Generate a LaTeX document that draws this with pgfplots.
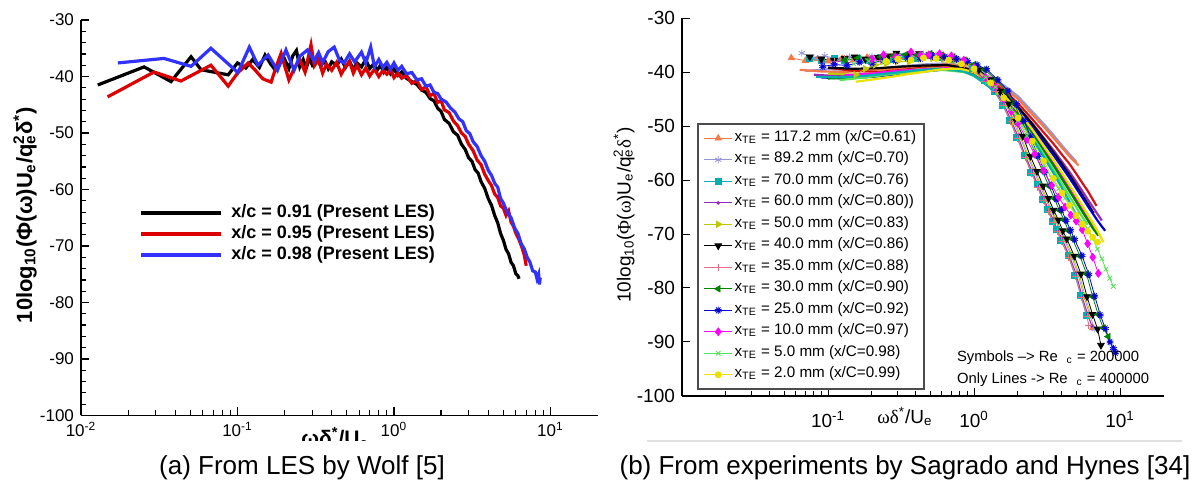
\documentclass[border=0pt]{standalone}
\usepackage{fontspec}
\setmainfont{Liberation Sans}
\newfontfamily\grk{Liberation Serif}
\usepackage{pgfplots}
\pgfplotsset{compat=1.18}
\definecolor{lesred}{RGB}{220,0,0}
\definecolor{lesblue}{RGB}{50,50,255}
\definecolor{cOrange}{RGB}{245,120,70}
\definecolor{cLav}{RGB}{150,150,215}
\definecolor{cTeal}{RGB}{0,175,175}
\definecolor{cPurple}{RGB}{150,40,190}
\definecolor{cYG}{RGB}{190,200,0}
\definecolor{cPink}{RGB}{225,110,130}
\definecolor{cRed}{RGB}{210,20,20}
\definecolor{cGreen}{RGB}{0,130,0}
\definecolor{cBlue}{RGB}{0,0,210}
\definecolor{cMag}{RGB}{255,0,255}
\definecolor{cLGreen}{RGB}{90,225,90}
\definecolor{cYellow}{RGB}{235,225,0}
\begin{document}
\begin{tikzpicture}
\path[use as bounding box] (0,0) rectangle (600pt,246pt);
% ---------------- left panel ----------------
\begin{axis}[
 at={(40.5pt,38.25pt)}, anchor=south west,
 scale only axis, width=258.3pt, height=197.75pt,
 xmode=log, xmin=0.01, xmax=20, ymin=-100, ymax=-30,
 axis x line*=bottom, axis y line*=left,
 axis line style={line width=0.9pt,-},
 every tick/.style={black, line width=0.6pt},
 tick align=inside, major tick length=4pt, minor tick length=2.5pt,
 xtick={0.01,0.1,1,10},
 xticklabels={10\textsuperscript{-2},10\textsuperscript{-1},10\textsuperscript{0},10\textsuperscript{1}},
 minor xtick={0.02,0.03,0.04,0.05,0.06,0.07,0.08,0.09,0.2,0.3,0.4,0.5,0.6,0.7,0.8,0.9,2,3,4,5,6,7,8,9},
 ytick={-100,-90,-80,-70,-60,-50,-40,-30},
 yticklabels={-100,-90,-80,-70,-60,-50,-40,-30},
 minor y tick num=4,
 tick label style={font=\fontsize{8.5}{10}\selectfont},
 legend style={at={(0.1,0.55)}, anchor=north west, draw=none, fill=none,
   font=\bfseries\fontsize{9}{10}\selectfont, row sep=0pt, column sep=3pt,
   nodes={inner sep=1pt, text height=6.6pt, text depth=1.9pt}},
 legend cell align=left,
 legend image code/.code={\draw[#1, line width=2.1pt] (0pt,0pt) -- (40pt,0pt);},
]
\addplot[black, line width=1.6pt] coordinates {
(0.0128,-41.5) (0.0253,-38.3) (0.0376,-40.9) (0.0505,-36.5) (0.0585,-38.8) (0.0872,-39.7)
(0.100,-37.6) (0.113,-38.5) (0.125,-37.0) (0.138,-38.4) (0.150,-36.2) (0.163,-37.8)
(0.175,-38.9) (0.188,-37.4) (0.200,-36.9) (0.213,-38.6) (0.225,-36.4) (0.238,-35.4)
(0.250,-38.3) (0.263,-37.0) (0.275,-38.5) (0.288,-36.8) (0.30,-37.9) (0.32,-36.5)
(0.34,-38.2) (0.36,-37.1) (0.38,-38.6) (0.40,-37.4) (0.43,-38.0) (0.46,-36.9)
(0.49,-38.4) (0.52,-37.3) (0.55,-38.8) (0.58,-37.6) (0.62,-38.3) (0.66,-37.0)
(0.70,-38.6) (0.74,-37.8) (0.78,-38.9) (0.82,-38.0) (0.86,-39.2) (0.90,-38.3)
(0.95,-39.5) (1.00,-38.7) (1.06,-39.8) (1.12,-39.2) (1.2,-40.3) (1.3,-40.9)
(1.4,-41.4) (1.5,-42.4) (1.6,-42.8) (1.7,-43.9) (1.8,-44.3) (1.9,-45.6)
(2.0,-46.2) (2.1,-47.6) (2.25,-48.3) (2.4,-49.8) (2.55,-50.4) (2.7,-52.0)
(2.85,-52.9) (3.0,-54.4) (3.15,-55.0) (3.3,-56.5) (3.45,-57.1) (3.6,-58.6)
(3.8,-59.8) (4.0,-61.6) (4.2,-62.8) (4.4,-64.6) (4.6,-65.9) (4.8,-67.8)
(5.0,-69.0) (5.2,-70.6) (5.4,-71.4) (5.6,-72.9) (5.8,-73.5) (6.0,-74.9)
(6.2,-75.3) (6.3,-75.8)};
\addlegendentry{x/c = 0.91 (Present LES)}
\addplot[lesred, line width=1.6pt] coordinates {
(0.0148,-43.6) (0.0293,-39.2) (0.0435,-40.8) (0.0676,-38.0) (0.0872,-41.7) (0.100,-39.4)
(0.117,-37.6) (0.130,-38.9) (0.145,-40.4) (0.164,-41.0) (0.177,-38.2) (0.19,-35.9)
(0.20,-38.1) (0.213,-40.6) (0.23,-38.6) (0.25,-37.0) (0.27,-39.2) (0.295,-34.4)
(0.31,-38.1) (0.33,-37.0) (0.35,-39.4) (0.37,-37.8) (0.40,-38.9) (0.43,-37.5)
(0.46,-39.6) (0.49,-38.2) (0.52,-37.4) (0.55,-39.4) (0.58,-38.0) (0.62,-39.7)
(0.66,-38.5) (0.70,-39.9) (0.75,-38.7) (0.80,-40.0) (0.85,-38.9) (0.90,-39.6)
(0.95,-38.8) (1.00,-40.2) (1.06,-39.4) (1.12,-40.3) (1.2,-39.8) (1.3,-41.2)
(1.4,-40.7) (1.5,-42.3) (1.6,-41.8) (1.7,-43.4) (1.8,-43.0) (1.9,-44.6)
(2.0,-44.3) (2.1,-45.9) (2.25,-46.4) (2.4,-47.9) (2.55,-48.7) (2.7,-50.0)
(2.85,-50.6) (3.0,-52.0) (3.2,-53.1) (3.4,-54.8) (3.6,-55.6) (3.8,-57.3)
(4.0,-58.4) (4.2,-59.3) (4.4,-60.8) (4.6,-61.4) (4.8,-62.9) (5.0,-63.3)
(5.2,-64.6) (5.4,-63.8) (5.6,-65.8) (5.8,-66.5) (6.0,-67.7) (6.3,-68.9)
(6.6,-70.4) (6.8,-71.6) (7.0,-73.5)};
\addlegendentry{x/c = 0.95 (Present LES)}
\addplot[lesblue, line width=1.6pt] coordinates {
(0.0172,-37.6) (0.0339,-36.8) (0.0505,-38.2) (0.0676,-35.0) (0.1006,-39.3) (0.119,-34.8)
(0.135,-38.0) (0.157,-36.2) (0.18,-38.9) (0.204,-35.3) (0.23,-38.9) (0.25,-36.4)
(0.28,-35.3) (0.31,-37.3) (0.33,-35.8) (0.35,-37.5) (0.38,-35.6) (0.415,-34.8)
(0.45,-37.2) (0.48,-37.6) (0.52,-36.0) (0.56,-37.4) (0.62,-35.7) (0.66,-37.6)
(0.71,-34.8) (0.75,-38.3) (0.80,-37.0) (0.85,-38.4) (0.90,-37.5) (0.95,-38.7)
(1.00,-37.6) (1.06,-38.9) (1.12,-38.2) (1.2,-39.5) (1.3,-39.3) (1.4,-40.6)
(1.5,-40.4) (1.6,-41.7) (1.7,-41.5) (1.8,-42.8) (1.9,-43.0) (2.0,-44.0)
(2.15,-44.5) (2.3,-45.6) (2.45,-46.3) (2.6,-47.5) (2.75,-48.0) (2.9,-49.6)
(3.05,-50.1) (3.2,-51.5) (3.4,-52.4) (3.6,-54.0) (3.8,-55.0) (4.0,-56.6)
(4.2,-57.5) (4.4,-58.9) (4.6,-59.6) (4.8,-61.6) (5.0,-62.4) (5.3,-64.1)
(5.6,-65.0) (5.9,-66.8) (6.2,-67.8) (6.5,-69.6) (6.8,-70.5) (7.1,-72.0)
(7.4,-72.9) (7.7,-74.4) (8.0,-74.6) (8.2,-75.8) (8.4,-75.0) (8.5,-76.8) (8.6,-75.6)};
\addlegendentry{x/c = 0.98 (Present LES)}
\end{axis}
% ---------------- right panel ----------------
\begin{axis}[
 at={(341pt,48pt)}, anchor=south west,
 scale only axis, width=241pt, height=189pt,
 xmode=log, xmin=0.01, xmax=20, ymin=-100, ymax=-30,
 axis x line*=bottom, axis y line*=left,
 axis line style={line width=0.7pt,-},
 every tick/.style={black, line width=0.5pt},
 tick align=inside, major tick length=4pt, minor tick length=2.5pt,
 xtick={0.1,1,10},
 xticklabels={10\textsuperscript{-1},10\textsuperscript{0},10\textsuperscript{1}},
 minor xtick={0.02,0.03,0.04,0.05,0.06,0.07,0.08,0.09,0.2,0.3,0.4,0.5,0.6,0.7,0.8,0.9,2,3,4,5,6,7,8,9},
 xticklabel style={yshift=-4pt},
 ytick={-100,-90,-80,-70,-60,-50,-40,-30},
 yticklabels={-100,-90,-80,-70,-60,-50,-40,-30},
 tick label style={font=\fontsize{9.5}{11}\selectfont},
 legend style={at={(0.031,0.722)}, anchor=north west, draw=black!70, line width=0.9pt, fill=white,
   font=\fontsize{7.6}{8}\selectfont, row sep=0.45pt, inner xsep=3pt, inner ysep=2pt,
   nodes={inner sep=1pt, text height=5.7pt, text depth=2.6pt, line width=0.4pt}},
 legend cell align=left,
 legend image code/.code={\draw[mark repeat=2,mark phase=2,#1] plot coordinates {(0pt,0pt) (7pt,0pt) (14pt,0pt)};},
]
% --- lines: Re_c = 400000 ---
\addplot[cLav, line width=1.1pt, forget plot] coordinates {(0.07,-39.8) (0.1,-39.5) (0.15,-39.6) (0.22,-39.3) (0.3,-39.0) (0.45,-38.6) (0.65,-38.4) (0.85,-38.8) (1.0,-39.3) (1.26,-40.8) (1.6,-42.5) (2,-44.5) (2.5,-47.3) (3,-49.6) (3.5,-51.7) (4,-53.6) (4.5,-55.2) (5.05,-56.7)};
\addplot[cOrange, line width=1.1pt, forget plot] coordinates {(0.064,-39.6) (0.09,-39.9) (0.13,-40.0) (0.2,-39.6) (0.3,-39.4) (0.45,-38.9) (0.65,-38.6) (0.85,-39.0) (1.0,-39.6) (1.26,-41.0) (1.6,-42.9) (2,-45.0) (2.5,-47.8) (3,-50.1) (3.5,-52.2) (4,-54.0) (4.6,-55.9) (5.2,-57.3)};
\addplot[cRed, line width=1.1pt, forget plot] coordinates {(0.1,-39.2) (0.15,-39.8) (0.22,-40.0) (0.3,-39.7) (0.45,-39.2) (0.65,-38.9) (0.85,-39.3) (1.0,-39.9) (1.26,-41.4) (1.6,-43.4) (2,-45.8) (2.5,-48.7) (3,-51.2) (3.5,-53.3) (4,-55.3) (4.5,-57.0) (5,-58.8) (5.5,-60.5) (6,-62.0) (6.5,-63.6) (6.9,-64.8)};
\addplot[cPurple, line width=1.1pt, forget plot] coordinates {(0.08,-40.5) (0.12,-40.8) (0.18,-40.6) (0.27,-40.2) (0.4,-39.6) (0.6,-39.2) (0.85,-39.6) (1.0,-40.2) (1.26,-41.8) (1.6,-44.0) (2,-46.5) (2.5,-49.5) (3,-52.2) (3.5,-54.5) (4,-56.6) (4.5,-58.5) (5,-60.3) (5.5,-62.0) (6,-63.6) (6.5,-65.0) (7,-66.3) (7.5,-67.5)};
\addplot[black, line width=1.1pt, forget plot] coordinates {(0.1,-39.2) (0.15,-39.4) (0.22,-39.3) (0.32,-39.0) (0.45,-38.8) (0.65,-38.7) (0.85,-39.2) (1.0,-39.9) (1.26,-41.6) (1.6,-43.9) (2,-46.5) (2.5,-49.6) (3,-52.4) (3.5,-54.9) (4,-57.1) (4.5,-59.1) (5,-61.0) (5.5,-62.8) (6,-64.4) (6.6,-66.2)};
\addplot[cBlue, line width=1.1pt, forget plot] coordinates {(0.09,-41.0) (0.13,-41.2) (0.2,-40.9) (0.3,-40.4) (0.45,-39.9) (0.65,-39.5) (0.85,-39.8) (1.0,-40.4) (1.26,-42.1) (1.6,-44.4) (2,-47.0) (2.5,-50.2) (3,-53.0) (3.5,-55.4) (4,-57.6) (4.5,-59.6) (5,-61.5) (5.5,-63.2) (6,-64.8) (6.5,-66.2) (7,-67.5) (7.5,-68.6) (7.9,-69.4)};
\addplot[cYG, line width=1.1pt, forget plot] coordinates {(0.1,-40.3) (0.15,-40.5) (0.22,-40.2) (0.32,-39.8) (0.45,-39.4) (0.65,-39.2) (0.85,-39.6) (1.0,-40.3) (1.26,-42.0) (1.6,-44.5) (2,-47.3) (2.5,-50.7) (3,-53.8) (3.5,-56.5) (4,-59.0) (4.5,-61.2) (5,-63.2) (5.5,-65.0) (6,-66.7) (6.5,-68.3) (7.1,-70.0)};
\addplot[cMag, line width=1.1pt, forget plot] coordinates {(0.13,-40.6) (0.2,-40.3) (0.3,-39.8) (0.45,-39.5) (0.65,-39.3) (0.85,-39.8) (1.0,-40.5) (1.26,-42.3) (1.6,-44.9) (2,-47.8) (2.5,-51.2) (3,-54.3) (3.5,-57.0) (4,-59.4) (4.5,-61.6) (5,-63.6) (5.5,-65.5) (6,-67.2) (6.5,-68.8)};
\addplot[cGreen, line width=1.1pt, forget plot] coordinates {(0.1,-41.2) (0.15,-41.0) (0.22,-40.6) (0.32,-40.1) (0.45,-39.7) (0.65,-39.5) (0.85,-39.9) (1.0,-40.6) (1.26,-42.4) (1.6,-45.0) (2,-47.9) (2.5,-51.4) (3,-54.6) (3.5,-57.3) (4,-59.8) (4.5,-62.0) (5,-64.0) (5.5,-65.8) (6,-67.4) (6.5,-68.9) (7.1,-70.3)};
\addplot[cLGreen, line width=1.1pt, forget plot] coordinates {(0.12,-41.5) (0.18,-41.0) (0.27,-40.4) (0.4,-39.9) (0.6,-39.6) (0.85,-40.0) (1.0,-40.7) (1.26,-42.6) (1.6,-45.3) (2,-48.3) (2.5,-51.9) (3,-55.2) (3.5,-58.1) (4,-60.7) (4.5,-63.0) (5,-65.0) (5.5,-66.8) (6,-68.3)};
\addplot[cTeal, line width=1.1pt, forget plot] coordinates {(0.083,-40.9) (0.12,-41.0) (0.18,-40.7) (0.27,-40.2) (0.4,-39.7) (0.6,-39.4) (0.85,-39.9) (1.0,-40.7) (1.26,-42.7) (1.6,-45.5) (2,-48.6) (2.5,-52.3) (3,-55.7) (3.5,-58.7) (4,-61.5) (4.5,-64.0) (5,-66.5) (5.5,-68.9)};
\addplot[cYellow, line width=1.1pt, forget plot] coordinates {(0.155,-41.8) (0.2,-41.4) (0.27,-40.9) (0.35,-40.4) (0.45,-40.0) (0.6,-39.5) (0.8,-39.4) (1.0,-40.0) (1.26,-41.8) (1.6,-44.3) (2,-47.2) (2.5,-50.6) (3,-53.7) (3.5,-56.3) (4,-58.7) (4.5,-60.9) (5,-62.9) (5.5,-64.7) (6,-66.4) (6.5,-67.9) (7,-69.4) (7.7,-71.5)};
% --- symbols: Re_c = 200000 ---
\addplot[cOrange, line width=0.4pt, mark=triangle*, mark size=1.8pt] coordinates {
(0.056,-37.4) (0.07,-37.9) (0.085,-37.6) (0.1,-38.0) (0.125,-37.5) (0.15,-37.8) (0.185,-37.3) (0.23,-37.6) (0.28,-37.1) (0.34,-37.3) (0.42,-36.9) (0.52,-37.0) (0.63,-37.2) (0.76,-37.6) (0.88,-38.3)
(1.0,-39.5) (1.2,-41.6) (1.4,-43.4) (1.6,-46.1) (1.8,-48.9) (2.0,-52.1) (2.25,-55.4) (2.5,-58.6) (2.75,-60.9) (3.0,-63.6) (3.25,-65.4) (3.5,-67.6) (3.75,-69.2) (4.0,-71.1) (4.5,-73.9) (5.0,-77.6) (5.5,-81.4) (6.0,-85.1) (6.5,-87.4)};
\addlegendentry{x\textsubscript{TE} = 117.2 mm (x/C=0.61)\hspace{11pt}}
\addplot[cLav, line width=0.4pt, mark=asterisk, mark size=1.8pt] coordinates {
(0.066,-36.5) (0.08,-37.4) (0.095,-37.0) (0.115,-37.6) (0.14,-37.2) (0.17,-37.7) (0.2,-37.1) (0.25,-37.5) (0.3,-36.9) (0.37,-37.2) (0.45,-36.7) (0.55,-36.9) (0.66,-37.2) (0.8,-37.8) (0.92,-38.6)
(1.03,-39.6) (1.24,-41.4) (1.44,-43.6) (1.65,-45.9) (1.85,-49.1) (2.06,-51.9) (2.32,-55.6) (2.58,-58.4) (2.83,-61.1) (3.09,-63.4) (3.35,-65.6) (3.61,-67.4) (3.86,-69.4) (4.12,-70.9) (4.64,-74.1) (5.15,-77.4) (5.67,-81.6) (6.18,-84.9) (6.7,-87.6)};
\addlegendentry{x\textsubscript{TE} = 89.2 mm (x/C=0.70)}
\addplot[cTeal, line width=0.4pt, mark=square*, mark size=1.5pt] coordinates {
(0.075,-37.4) (0.09,-37.8) (0.11,-37.4) (0.13,-37.9) (0.16,-37.5) (0.19,-37.8) (0.23,-37.3) (0.28,-37.6) (0.34,-37.2) (0.41,-37.4) (0.5,-37.0) (0.6,-37.3) (0.72,-37.6) (0.85,-38.3)
(0.98,-39.4) (1.18,-41.6) (1.37,-43.5) (1.57,-46.1) (1.76,-48.9) (1.96,-52.1) (2.21,-55.4) (2.45,-58.6) (2.7,-60.9) (2.94,-63.6) (3.19,-65.4) (3.43,-67.6) (3.68,-69.2) (3.92,-71.1) (4.41,-73.9) (4.9,-77.6) (5.39,-81.4) (5.88,-85.1)};
\addlegendentry{x\textsubscript{TE} = 70.0 mm (x/C=0.76)}
\addplot[cPurple, line width=0.4pt, mark=*, mark size=0.7pt] coordinates {
(0.09,-38.2) (0.11,-37.9) (0.135,-38.3) (0.165,-37.8) (0.2,-38.1) (0.24,-37.6) (0.29,-37.9) (0.35,-37.4) (0.43,-37.5) (0.52,-37.2) (0.63,-37.5) (0.76,-37.9) (0.88,-38.5)
(1.0,-39.7) (1.2,-41.4) (1.4,-43.7) (1.6,-45.8) (1.8,-49.2) (2.0,-51.8) (2.25,-55.7) (2.5,-58.3) (2.75,-61.2) (3.0,-63.3) (3.25,-65.7) (3.5,-67.3) (3.75,-69.5) (4.0,-70.8) (4.5,-74.2) (5.0,-77.3) (5.5,-81.7) (6.0,-84.8) (6.4,-87.0)};
\addlegendentry{x\textsubscript{TE} = 60.0 mm (x/C=0.80))}
\addplot[cYG, line width=0.4pt, mark=triangle*, mark size=1.8pt, mark options={rotate=-90}] coordinates {
(0.155,-40.5) (0.18,-39.4) (0.21,-38.7) (0.25,-38.4) (0.3,-38.0) (0.36,-38.1) (0.43,-37.6) (0.52,-37.5) (0.62,-37.6) (0.74,-37.9) (0.88,-38.5)
(1.05,-39.6) (1.26,-41.5) (1.47,-43.6) (1.68,-45.9) (1.89,-49.1) (2.1,-52.0) (2.36,-55.6) (2.63,-58.4) (2.89,-61.1) (3.15,-63.4) (3.41,-65.6) (3.68,-67.4) (3.94,-69.4) (4.2,-70.9) (4.73,-74.1) (5.25,-77.4) (5.78,-81.6) (6.3,-84.9)};
\addlegendentry{x\textsubscript{TE} = 50.0 mm (x/C=0.83)}
\addplot[black, line width=0.4pt, mark=triangle*, mark size=1.9pt, mark options={rotate=180}] coordinates {
(0.075,-37.2) (0.09,-37.6) (0.11,-37.8) (0.13,-37.5) (0.152,-37.2) (0.18,-37.6) (0.22,-37.3) (0.26,-37.0) (0.294,-36.5) (0.35,-36.9) (0.42,-36.6) (0.5,-36.8) (0.6,-37.0) (0.72,-37.4) (0.85,-38.1)
(1.08,-39.6) (1.3,-41.4) (1.51,-43.6) (1.73,-45.9) (1.94,-49.1) (2.16,-51.9) (2.43,-55.6) (2.7,-58.4) (2.97,-61.1) (3.24,-63.4) (3.51,-65.6) (3.78,-67.4) (4.05,-69.4) (4.32,-70.9) (4.86,-74.1) (5.4,-77.4) (5.94,-81.6) (6.48,-84.9) (7.02,-87.6) (7.4,-90.6)};
\addlegendentry{x\textsubscript{TE} = 40.0 mm (x/C=0.86)}
\addplot[cPink, line width=0.4pt, mark=+, mark size=1.8pt] coordinates {
(0.11,-38.0) (0.13,-37.6) (0.16,-38.0) (0.19,-37.5) (0.23,-37.8) (0.28,-37.3) (0.34,-37.5) (0.41,-37.1) (0.5,-37.2) (0.6,-37.4) (0.72,-37.8) (0.86,-38.5)
(0.99,-39.6) (1.19,-41.7) (1.39,-43.6) (1.58,-46.2) (1.78,-49.2) (1.98,-52.3) (2.23,-55.8) (2.48,-58.7) (2.72,-61.3) (2.97,-63.8) (3.22,-65.8) (3.47,-67.8) (3.71,-69.6) (3.96,-71.3) (4.46,-74.3) (4.95,-77.8) (5.45,-81.8) (5.94,-85.3) (6.1,-86.9)};
\addlegendentry{x\textsubscript{TE} = 35.0 mm (x/C=0.88)}
\addplot[cGreen, line width=0.4pt, mark=triangle*, mark size=1.8pt, mark options={rotate=90}] coordinates {
(0.13,-37.8) (0.16,-37.4) (0.19,-37.7) (0.23,-37.2) (0.28,-37.0) (0.34,-36.8) (0.41,-36.9) (0.5,-36.6) (0.6,-36.9) (0.72,-37.2) (0.86,-37.8) (1.0,-38.6)
(1.18,-39.6) (1.42,-41.4) (1.65,-43.6) (1.89,-45.9) (2.12,-49.1) (2.36,-51.9) (2.66,-55.6) (2.95,-58.4) (3.25,-61.1) (3.54,-63.4) (3.84,-65.6) (4.13,-67.4) (4.43,-69.4) (4.72,-70.9) (5.31,-74.1) (5.9,-77.4) (6.49,-81.6) (7.08,-84.9) (7.67,-87.4) (8.3,-89.0)};
\addlegendentry{x\textsubscript{TE} = 30.0 mm (x/C=0.90)}
\addplot[cBlue, line width=0.4pt, mark=10-pointed star, mark size=1.8pt] coordinates {
(0.092,-39.0) (0.11,-38.6) (0.135,-38.8) (0.165,-38.2) (0.2,-38.4) (0.24,-37.8) (0.29,-37.9) (0.35,-37.4) (0.43,-37.5) (0.52,-37.1) (0.63,-37.3) (0.76,-37.6) (0.9,-38.0) (1.05,-38.7)
(1.22,-39.5) (1.46,-41.5) (1.71,-43.5) (1.95,-46.0) (2.2,-49.0) (2.44,-52.0) (2.75,-55.5) (3.05,-58.5) (3.36,-61.0) (3.66,-63.5) (3.97,-65.5) (4.27,-67.5) (4.58,-69.3) (4.88,-71.0) (5.49,-74.0) (6.1,-77.5) (6.71,-81.5) (7.32,-85.0) (7.93,-87.5) (8.54,-90.0) (9.0,-91.2) (9.3,-92.0)};
\addlegendentry{x\textsubscript{TE} = 25.0 mm (x/C=0.92)}
\addplot[cMag, line width=0.4pt, mark=diamond*, mark size=1.9pt] coordinates {
(0.2,-37.6) (0.24,-36.8) (0.29,-37.2) (0.37,-36.3) (0.43,-36.9) (0.49,-36.8) (0.58,-36.6) (0.7,-37.0) (0.85,-37.8)
(1.0,-39.2) (1.2,-41.0) (1.4,-42.8) (1.6,-45.0) (1.8,-47.3) (2.0,-49.5) (2.3,-52.5) (2.6,-55.2) (3.0,-58.3) (3.4,-61.0) (3.8,-63.2) (4.2,-65.0) (4.6,-66.5) (5.0,-67.6) (5.5,-69.2) (6.0,-71.8) (6.5,-74.3) (7.1,-77.3)};
\addlegendentry{x\textsubscript{TE} = 10.0 mm (x/C=0.97)}
\addplot[cLGreen, line width=0.4pt, mark=x, mark size=1.6pt] coordinates {
(0.15,-38.5) (0.19,-38.0) (0.24,-38.2) (0.3,-37.7) (0.37,-37.8) (0.45,-37.4) (0.55,-37.5) (0.67,-37.7) (0.82,-38.3)
(1.0,-39.3) (1.2,-41.0) (1.4,-42.8) (1.6,-44.8) (1.8,-46.9) (2.0,-49.0) (2.3,-51.8) (2.6,-54.3) (3.0,-57.2) (3.4,-59.6) (3.8,-61.6) (4.2,-63.4) (4.6,-64.9) (5.0,-66.2) (5.5,-67.7) (6.0,-69.0) (6.5,-70.8) (7.0,-72.8) (7.5,-74.6) (8.0,-76.5) (8.5,-78.2) (9.0,-79.7)};
\addlegendentry{x\textsubscript{TE} = 5.0 mm (x/C=0.98)}
\addplot[cYellow, line width=0.4pt, mark=*, mark size=1.5pt] coordinates {
(0.25,-38.0) (0.3,-37.6) (0.37,-37.8) (0.45,-37.4) (0.55,-37.5) (0.67,-37.8) (0.82,-38.5)
(1.0,-39.4) (1.3,-42.0) (1.6,-44.8) (2.0,-48.5) (2.5,-52.8) (3.0,-56.5) (3.5,-59.7) (4.0,-62.4) (4.5,-64.7) (5.0,-66.6) (5.5,-68.2) (6.0,-69.5) (6.5,-70.6) (7.0,-71.5)};
\addlegendentry{x\textsubscript{TE} = 2.0 mm (x/C=0.99)}
\end{axis}
% ---------------- labels ----------------
\node[rotate=90, font=\bfseries\fontsize{11}{13}\selectfont] at (12.5pt,138.5pt)
  {10log\textsubscript{10}(Φ(ω)U\textsubscript{e}/q\rlap{\textsuperscript{2}}\textsubscript{e}δ\textsuperscript{*})};
\node[font=\bfseries\fontsize{10.5}{12}\selectfont, anchor=base, inner sep=0pt] at (167.5pt,23.3pt)
  {ωδ\textsuperscript{*}/U\textsubscript{e}};
\fill[white] (120pt,19.5pt) rectangle (215pt,25.3pt);
\node[rotate=90, font=\fontsize{9.5}{11}\selectfont] at (312pt,138.5pt)
  {10log\textsubscript{10}({\grk Φ}({\grk ω})U\textsubscript{e}/q\rlap{\textsuperscript{2}}\textsubscript{e}{\grk δ}\textsuperscript{*})};
\node[font=\fontsize{9.5}{11}\selectfont, anchor=base] at (452.5pt,34pt)
  {{\grk ωδ}\textsuperscript{*}/U\textsubscript{e}};
\node[font=\fontsize{7.4}{8}\selectfont, anchor=west] at (475pt,67pt)
  {Symbols --> Re\hspace{0.6em}\textsubscript{c} = 200000};
\node[font=\fontsize{7.4}{8}\selectfont, anchor=west] at (475pt,56pt)
  {Only Lines -> Re\hspace{0.6em}\textsubscript{c} = 400000};
\draw[black!12, line width=0.6pt] (323.5pt,25.5pt) -- (591pt,25.5pt);
\node[font=\fontsize{13}{15}\selectfont, inner sep=0pt] at (151pt,12pt) {(a) From LES by Wolf [5]};
\node[font=\fontsize{13}{15}\selectfont, inner sep=0pt] at (452.5pt,12pt) {(b) From experiments by Sagrado and Hynes [34]};
\end{tikzpicture}
\end{document}
